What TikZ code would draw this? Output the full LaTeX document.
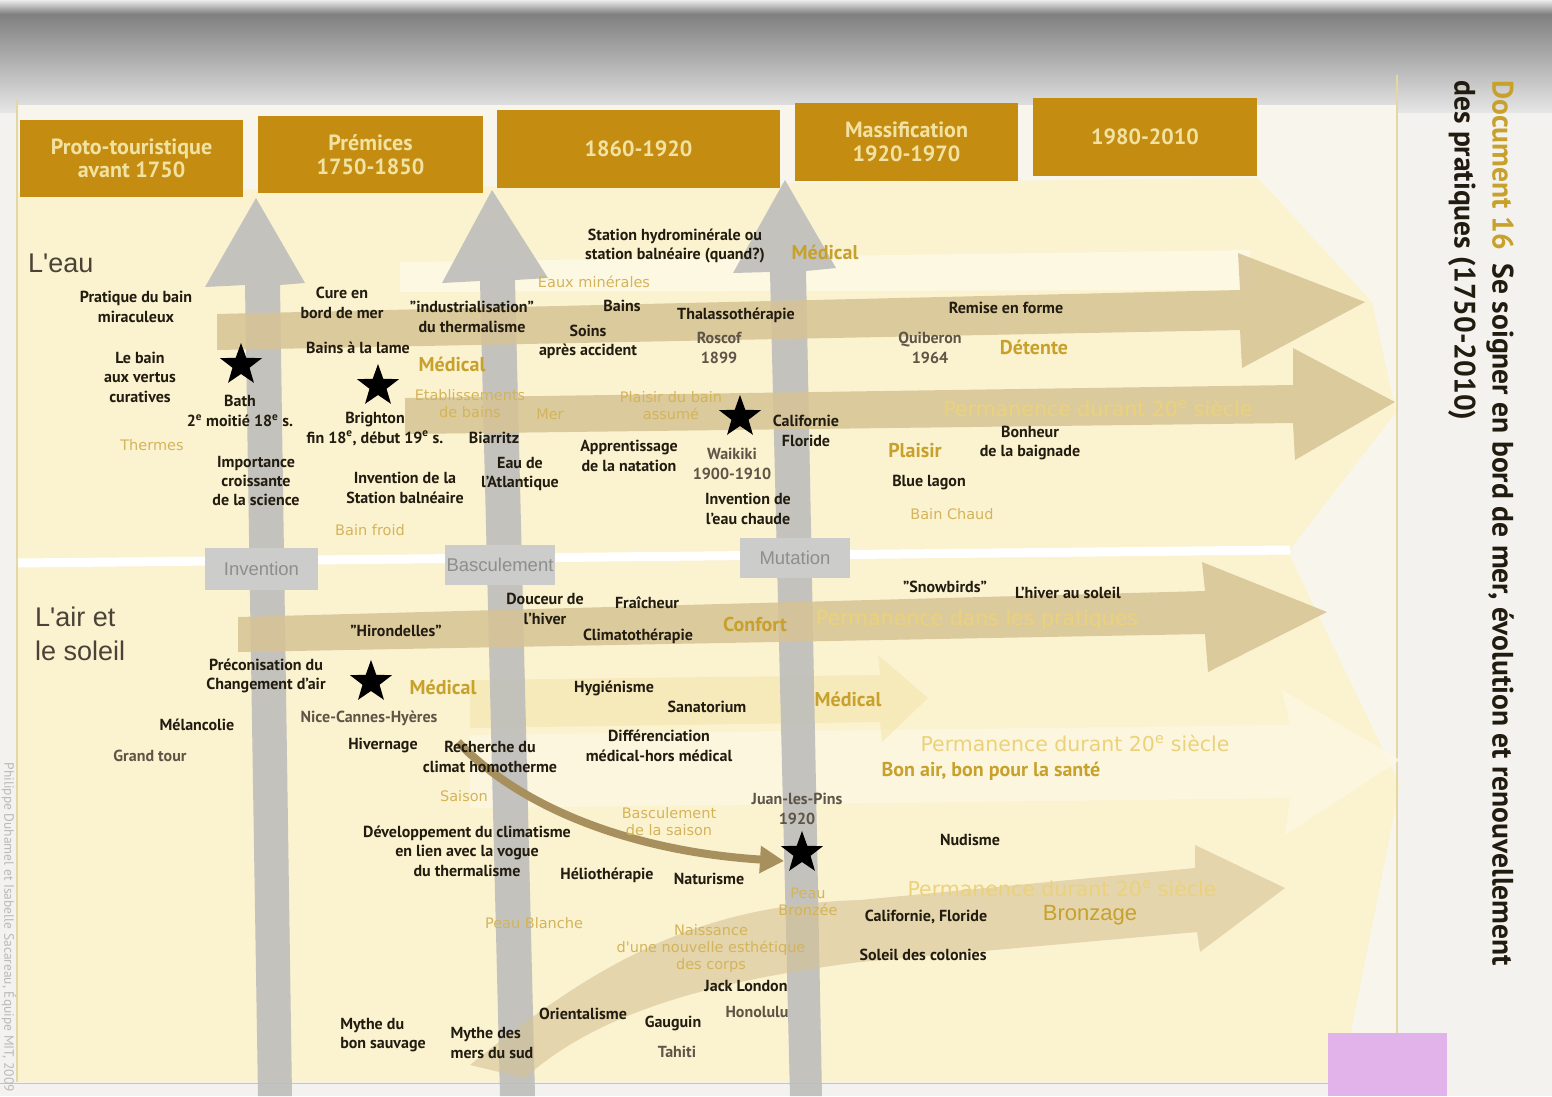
\documentclass[tikz,border=0pt]{standalone}
\usepackage{fontspec}
\setmainfont{PT Sans}
\newfontfamily\arf{Liberation Sans}
\newfontfamily\djv{DejaVu Sans}
\usetikzlibrary{shapes.geometric,arrows.meta}
\definecolor{dtext}{HTML}{221C10}
\definecolor{gbrown}{HTML}{5E5547}
\definecolor{goldt}{HTML}{C7A12C}
\definecolor{lgold}{HTML}{D4B45A}
\definecolor{plgold}{HTML}{EBD27A}
\definecolor{hdr}{HTML}{C48D12}
\definecolor{hdrtext}{HTML}{F2E2A2}
\definecolor{cream}{HTML}{FBF2D0}
\definecolor{panelbg}{HTML}{F8F6EC}
\definecolor{pagebg}{HTML}{F3F2EE}
\definecolor{bandc}{HTML}{D6C394}
\definecolor{vgray}{HTML}{BDBDBB}
\definecolor{gboxc}{HTML}{CCCCCA}
\definecolor{gboxt}{HTML}{8E8E8E}
\definecolor{saisc}{HTML}{A8905E}
\definecolor{secttext}{HTML}{4A4236}
\definecolor{pinkc}{HTML}{E2B3EA}
\definecolor{linec}{HTML}{E3D7A5}
\definecolor{faintA}{HTML}{F6E8B2}
\definecolor{faintB}{HTML}{FDF8E2}
\begin{document}
\begin{tikzpicture}[x=1pt,y=-1pt,
 bt/.style={font=\bfseries\fontsize{16}{19.5}\selectfont, text=dtext, align=center, inner sep=0pt},
 gt/.style={bt, text=gbrown},
 med/.style={font=\bfseries\fontsize{20}{22}\selectfont, text=goldt, inner sep=0pt},
 lgt/.style={font=\djv\fontsize{14.5}{17}\selectfont, text=lgold, align=center, inner sep=0pt},
 perm/.style={font=\djv\fontsize{20.5}{22}\selectfont, text=plgold, inner sep=0pt},
 bronz/.style={font=\arf\fontsize{22}{24}\selectfont, text=goldt, inner sep=0pt},
 hdrbox/.style={fill=hdr, draw=none, font=\bfseries\fontsize{22}{23.5}\selectfont, text=hdrtext, align=center, inner sep=0pt},
 gbox/.style={fill=gboxc, text=gboxt, font=\arf\fontsize{18.5}{20}\selectfont, inner sep=0pt},
 vstar/.style={star, star points=5, star point ratio=2.45, fill=black, draw=none, minimum size=44pt, inner sep=0pt},
 sect/.style={font=\arf\fontsize{27}{34}\selectfont, text=secttext, align=left, inner sep=0pt},
 band/.style={fill=bandc, fill opacity=0.85},
 varrow/.style={fill=vgray, fill opacity=0.9},
 saisarrow/.style={draw=saisc, line width=8pt, -{Triangle[length=24pt,width=26pt]}}
]
\useasboundingbox (0,0) rectangle (1552,1096);
% page and photo shadow
\fill[pagebg] (0,0) rectangle (1552,1096);
\shade[top color=black!8, bottom color=black!50] (0,0) rectangle (1552,14);
\shade[top color=black!50, bottom color=black!10] (0,14) rectangle (1552,112);
% panel
\fill[panelbg] (18,105) rectangle (1397,1082);
\fill[cream] (18,192) -- (1258,178) -- (1372,302) -- (1396,412) -- (1288,552)
  -- (1400,785) -- (1345,1062) -- (1330,1082) -- (18,1082) -- cycle;
\draw[linec, line width=1.5pt] (17,100) -- (17,1082);
\draw[linec, line width=1.5pt] (1397,75) -- (1397,1082);
\draw[linec!80!gray, line width=1pt] (0,1083) -- (1330,1083);
% faint layers
\fill[faintB] (400,262) -- (1250,250) -- (1250,290) -- (400,292) -- cycle;
\fill[faintB, fill opacity=0.8] (470,735) -- (1290,725) -- (1282,690) -- (1400,760) -- (1285,835) -- (1290,798) -- (470,808) -- cycle;
\fill[faintA, fill opacity=0.7] (470,680) -- (880,675) -- (878,655) -- (928,698) -- (882,742) -- (880,722) -- (470,728) -- cycle;
% separator
\draw[white, line width=9pt] (18,563) -- (1290,550);
% vertical arrows
\fill[varrow] (245,285) -- (205,287) -- (256,198) -- (305,283) -- (280,285) -- (292,1096) -- (258,1096) -- cycle;
\fill[varrow] (480,281) -- (442,283) -- (492,190) -- (548,278) -- (515,280) -- (535,1096) -- (500,1096) -- cycle;
\fill[varrow] (770,272) -- (733,273) -- (785,180) -- (836,268) -- (806,271) -- (822,1096) -- (790,1096) -- cycle;
% horizontal bands
\fill[band] (217,314) -- (1240,290) -- (1238,253) -- (1365,302) -- (1242,368) -- (1240,330) -- (217,350) -- cycle;
\fill[band] (405,398) -- (1293,385) -- (1293,348) -- (1395,402) -- (1295,460) -- (1293,423) -- (405,434) -- cycle;
\fill[band] (238,617) -- (1205,591) -- (1202,562) -- (1327,612) -- (1208,672) -- (1205,634) -- (238,652) -- cycle;
\fill[band, fill opacity=0.6] (470,1065) .. controls (600,960) and (700,905) .. (860,900) -- (1195,868) -- (1195,845)
  -- (1285,888) -- (1200,952) -- (1197,932) -- (860,962) .. controls (720,980) and (600,1010) .. (525,1078) -- cycle;
% header boxes
\node[hdrbox, minimum width=223pt, minimum height=77pt] (h1) at (131.5,158.5) {Proto-touristique\\avant 1750};
\node[hdrbox, minimum width=225pt, minimum height=77pt] (h2) at (370.5,154.5) {Prémices\\1750-1850};
\node[hdrbox, minimum width=283pt, minimum height=78pt] (h3) at (638.5,149) {1860-1920};
\node[hdrbox, minimum width=223pt, minimum height=78pt] (h4) at (906.5,142) {Massification\\1920-1970};
\node[hdrbox, minimum width=224pt, minimum height=78pt] (h5) at (1145,137) {1980-2010};
% gray labels on vertical arrows
\node[gbox, minimum width=113pt, minimum height=42pt] (ginv) at (261.5,569) {Invention};
\node[gbox, minimum width=110pt, minimum height=40pt] (gbasc) at (500,565) {Basculement};
\node[gbox, minimum width=110pt, minimum height=40pt] (gmut) at (795,558) {Mutation};
% stars
\node[vstar] (sbath) at (241,365) {};
\node[vstar] (sbright) at (378,386) {};
\node[vstar] (swaik) at (740,417) {};
\node[vstar] (snice) at (371,682) {};
\node[vstar] (sjuan) at (802,853) {};
% saison curved arrow
\coordinate (sa) at (458,742);
\coordinate (sb) at (784,861);
\draw[saisarrow] (sa) .. controls (525,812) and (640,852) .. (sb);
% ---------- L'eau ----------
\node[sect, anchor=west] (leau) at (28,263) {L'eau};
\node[bt] (pratique) at (136,307) {Pratique du bain\\miraculeux};
\node[bt] (lebain) at (140,377) {Le bain\\aux vertus\\curatives};
\node[bt] (bath) at (240,411) {Bath\\2\textsuperscript{e} moitié 18\textsuperscript{e} s.};
\node[lgt] (thermes) at (152,445) {Thermes};
\node[bt] (importance) at (256,481) {Importance\\croissante\\de la science};
\node[bt] (cure) at (342,303) {Cure en\\bord de mer};
\node[bt] (lame) at (358,348) {Bains à la lame};
\node[bt] (brighton) at (375,429) {Brighton\\fin 18\textsuperscript{e}, début 19\textsuperscript{e} s.};
\node[bt] (station) at (405,488) {Invention de la\\Station balnéaire};
\node[lgt] (froid) at (370,530) {Bain froid};
\node[bt] (indus) at (472,317) {"industrialisation"\\du thermalisme};
\node[med] (med1) at (452,364) {Médical};
\node[lgt] (etab) at (470,404) {Etablissements\\de bains};
\node[bt] (biarritz) at (494,438) {Biarritz};
\node[bt] (atl) at (520,474) {Eau de\\l'Atlantique};
\node[bt] (hydro) at (675,246) {Station hydrominérale ou\\station balnéaire (quand?)};
\node[med] (med2) at (825,252) {Médical};
\node[lgt] (eaux) at (594,282) {Eaux minérales};
\node[bt] (bains) at (622,306) {Bains};
\node[bt] (soins) at (588,342) {Soins\\après accident};
\node[bt] (thalasso) at (736,315) {Thalassothérapie};
\node[gt] (roscof) at (719,348) {Roscof\\1899};
\node[lgt] (plaisirbain) at (671,406) {Plaisir du bain\\assumé};
\node[lgt] (mer) at (550,414) {Mer};
\node[bt] (calif) at (806,431) {Californie\\Floride};
\node[bt] (natation) at (629,456) {Apprentissage\\de la natation};
\node[gt] (waikiki) at (732,464) {Waikiki\\1900-1910};
\node[bt] (chaude) at (748,509) {Invention de\\l'eau chaude};
\node[gt] (quiberon) at (930,348) {Quiberon\\1964};
\node[bt] (remise) at (1006,308) {Remise en forme};
\node[med] (detente) at (1034,347) {Détente};
\node[perm] (perm1) at (1098,408) {Permanence durant 20\textsuperscript{e} siècle};
\node[med] (plaisir) at (915,451) {Plaisir};
\node[bt] (bonheur) at (1030,443) {Bonheur\\de la baignade};
\node[bt] (blue) at (929,483) {Blue lagon};
\node[lgt] (chaud) at (952,514) {Bain Chaud};
% ---------- L'air et le soleil ----------
\node[sect, anchor=west] (air) at (35,634) {L'air et\\le soleil};
\node[bt] (hirond) at (396,631) {"Hirondelles"};
\node[bt] (douceur) at (545,609) {Douceur de\\l'hiver};
\node[bt] (fraich) at (647,603) {Fraîcheur};
\node[bt] (climato) at (638,636) {Climatothérapie};
\node[med] (confort) at (755,624) {Confort};
\node[perm] (perm2) at (977,620) {Permanence dans les pratiques};
\node[bt] (snow) at (945,587) {"Snowbirds"};
\node[bt] (hiver) at (1068,593) {L'hiver au soleil};
\node[bt] (precon) at (266,676) {Préconisation du\\Changement d'air};
\node[med] (med3) at (443,687) {Médical};
\node[bt] (melan) at (197,725) {Mélancolie};
\node[gt] (grand) at (150,756) {Grand tour};
\node[gt] (nice) at (369,718) {Nice-Cannes-Hyères};
\node[bt] (hivernage) at (383,745) {Hivernage};
\node[bt] (recherche) at (490,757) {Recherche du\\climat homotherme};
\node[lgt] (saison) at (464,796) {Saison};
\node[bt] (hygien) at (614,688) {Hygiénisme};
\node[bt] (sana) at (707,707) {Sanatorium};
\node[bt] (diff) at (659,746) {Différenciation\\médical-hors médical};
\node[med] (med4) at (848,699) {Médical};
\node[perm] (perm3) at (1075,743) {Permanence durant 20\textsuperscript{e} siècle};
\node[med] (bonair) at (991,771) {Bon air, bon pour la santé};
\node[lgt] (bascsaison) at (669,822) {Basculement\\de la saison};
\node[gt] (juan) at (797,809) {Juan-les-Pins\\1920};
\node[bt] (dev) at (467,851) {Développement du climatisme\\en lien avec la vogue\\du thermalisme};
\node[bt] (helio) at (607,875) {Héliothérapie};
\node[bt] (natur) at (709,879) {Naturisme};
\node[bt] (nud) at (970,840) {Nudisme};
\node[lgt] (bronzee) at (808,902) {Peau\\Bronzée};
\node[perm] (perm4) at (1062,888) {Permanence durant 20\textsuperscript{e} siècle};
\node[bt] (califflo) at (926,917) {Californie, Floride};
\node[bronz] (bronzage) at (1090,915) {Bronzage};
\node[bt] (soleilcol) at (923,955) {Soleil des colonies};
\node[lgt] (blanche) at (534,923) {Peau Blanche};
\node[lgt] (naissance) at (711,948) {Naissance\\d'une nouvelle esthétique\\des corps};
\node[bt] (jack) at (746,986) {Jack London};
\node[bt] (orient) at (583,1014) {Orientalisme};
\node[bt] (gauguin) at (673,1023) {Gauguin};
\node[gt] (honolulu) at (757,1012) {Honolulu};
\node[gt] (tahiti) at (677,1052) {Tahiti};
\node[bt, align=left] (sauvage) at (383,1035) {Mythe du\\bon sauvage};
\node[bt, align=left] (mersud) at (492,1043) {Mythe des\\mers du sud};
% title and source
\node[rotate=-90, anchor=north west, align=left, font=\bfseries\fontsize{29.5}{38}\selectfont, text=dtext, inner sep=0pt] (title) at (1514,80)
 {\textcolor{goldt}{Document 16}\hspace{14pt}Se soigner en bord de mer, évolution et renouvellement\\des pratiques (1750-2010)};
\node[rotate=-90, anchor=east, font=\fontsize{13.5}{15}\selectfont, text=gray!55, inner sep=0pt] (source) at (9,1092)
 {Philippe Duhamel et Isabelle Sacareau, Équipe MIT, 2009};
% pink tab
\fill[pinkc] (1328,1033) rectangle (1447,1096);
\end{tikzpicture}
\end{document}
